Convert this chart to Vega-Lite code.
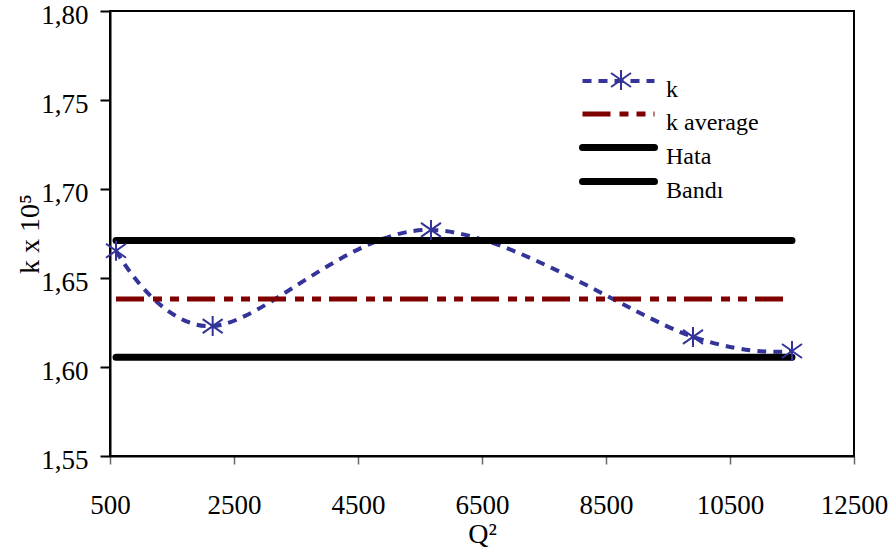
{
  "$schema": "https://vega.github.io/schema/vega-lite/v6.json",
  "width": 744,
  "height": 445,
  "autosize": {"type": "none"},
  "padding": {"left": 110, "top": 11, "right": 41, "bottom": 97},
  "background": "white",
  "config": {
    "view": {"stroke": "black", "strokeWidth": 2},
    "font": "Liberation Serif",
    "axis": {
      "labelFont": "Liberation Serif",
      "titleFont": "Liberation Serif",
      "labelColor": "black",
      "titleColor": "black",
      "labelFontSize": 27,
      "titleFontSize": 28,
      "titleFontWeight": "normal",
      "grid": false,
      "domainColor": "black",
      "domainWidth": 2
    },
    "legend": {"labelFont": "Liberation Serif", "labelColor": "black"}
  },
  "data": {
    "values": [
      {"series": "k", "Q2": 597, "k": 1.6653},
      {"series": "k", "Q2": 2156, "k": 1.623},
      {"series": "k", "Q2": 5677, "k": 1.677},
      {"series": "k", "Q2": 9903, "k": 1.6169},
      {"series": "k", "Q2": 11500, "k": 1.609},
      {"series": "k average", "Q2": 597, "k": 1.6382},
      {"series": "k average", "Q2": 11500, "k": 1.6382},
      {"series": "Hata", "Q2": 597, "k": 1.671},
      {"series": "Hata", "Q2": 11500, "k": 1.671},
      {"series": "Bandı", "Q2": 597, "k": 1.6055},
      {"series": "Bandı", "Q2": 11500, "k": 1.6055}
    ]
  },
  "encoding": {
    "x": {
      "field": "Q2", "type": "quantitative",
      "scale": {"domain": [500, 12500], "nice": false, "zero": false},
      "axis": {
        "title": "Q²",
        "values": [500, 2500, 4500, 6500, 8500, 10500, 12500],
        "format": "d",
        "tickSize": 8, "tickColor": "#666666", "tickWidth": 1.5,
        "labelPadding": 28, "titlePadding": 2,
        "labelFlush": false, "labelOverlap": false
      }
    },
    "y": {
      "field": "k", "type": "quantitative",
      "scale": {"domain": [1.55, 1.8], "nice": false, "zero": false},
      "axis": {
        "title": "k x 10⁵",
        "values": [1.55, 1.6, 1.65, 1.7, 1.75, 1.8],
        "labelExpr": "replace(format(datum.value, '.2f'), '.', ',')",
        "tickSize": 10, "tickColor": "black", "tickWidth": 2,
        "labelPadding": 12, "titlePadding": -4, "labelOffset": 4,
        "labelFlush": false, "labelOverlap": false
      }
    }
  },
  "layer": [
    {
      "transform": [{"filter": "datum.series === 'k' || datum.series === 'k average'"}],
      "mark": {"type": "line", "interpolate": "cardinal", "strokeCap": "butt"},
      "encoding": {
        "color": {
          "field": "series", "type": "nominal",
          "scale": {"domain": ["k", "k average", "Hata", "Bandı"], "range": ["#333399", "#800000", "black", "black"]},
          "legend": {
            "orient": "none", "legendX": 496, "legendY": 58,
            "title": null, "padding": 0,
            "symbolType": "M-4,0H4", "symbolSize": 324,
            "labelFontSize": 24, "labelOffset": 35, "labelBaseline": "middle",
            "rowPadding": -10,
            "encode": {
              "symbols": {"update": {
                "strokeCap": {"signal": "datum.value === 'Hata' || datum.value === 'Bandı' ? 'round' : 'butt'"},
                "strokeWidth": {"signal": "datum.value === 'k' ? 4 : datum.value === 'k average' ? 5 : 7"}
              }},
              "labels": {"update": {"dy": {"value": 9}}}
            }
          }
        },
        "strokeDash": {
          "field": "series", "type": "nominal",
          "scale": {"domain": ["k", "k average", "Hata", "Bandı"], "range": [[9, 7], [28, 9, 9, 8, 9, 8], [1, 0], [1, 0]]}
        },
        "strokeWidth": {
          "field": "series", "type": "nominal",
          "scale": {"type": "ordinal", "domain": ["k", "k average", "Hata", "Bandı"], "range": [4, 5, 7, 7]}
        }
      }
    },
    {
      "transform": [{"filter": "datum.series === 'Hata' || datum.series === 'Bandı'"}],
      "mark": {"type": "line", "strokeCap": "round"},
      "encoding": {
        "color": {
          "field": "series", "type": "nominal",
          "scale": {"domain": ["k", "k average", "Hata", "Bandı"], "range": ["#333399", "#800000", "black", "black"]}
        },
        "strokeDash": {
          "field": "series", "type": "nominal",
          "scale": {"domain": ["k", "k average", "Hata", "Bandı"], "range": [[9, 7], [28, 9, 9, 8, 9, 8], [1, 0], [1, 0]]}
        },
        "strokeWidth": {
          "field": "series", "type": "nominal",
          "scale": {"type": "ordinal", "domain": ["k", "k average", "Hata", "Bandı"], "range": [4, 5, 7, 7]}
        }
      }
    },
    {
      "transform": [{"filter": "datum.series === 'k'"}],
      "mark": {"type": "point", "filled": false, "color": "#333399", "strokeWidth": 2, "size": 400, "opacity": 1},
      "encoding": {
        "shape": {
          "field": "series", "type": "nominal",
          "scale": {"domain": ["k"], "range": ["M0,-1L0,1M-1,-0.7L1,0.7M-1,0.7L1,-0.7"]},
          "legend": {
            "orient": "none", "legendX": 500, "legendY": 58,
            "title": null, "padding": 0, "labelExpr": "''",
            "symbolSize": 400, "symbolStrokeColor": "#333399", "symbolStrokeWidth": 2, "symbolFillColor": "transparent"
          }
        }
      }
    }
  ]
}
